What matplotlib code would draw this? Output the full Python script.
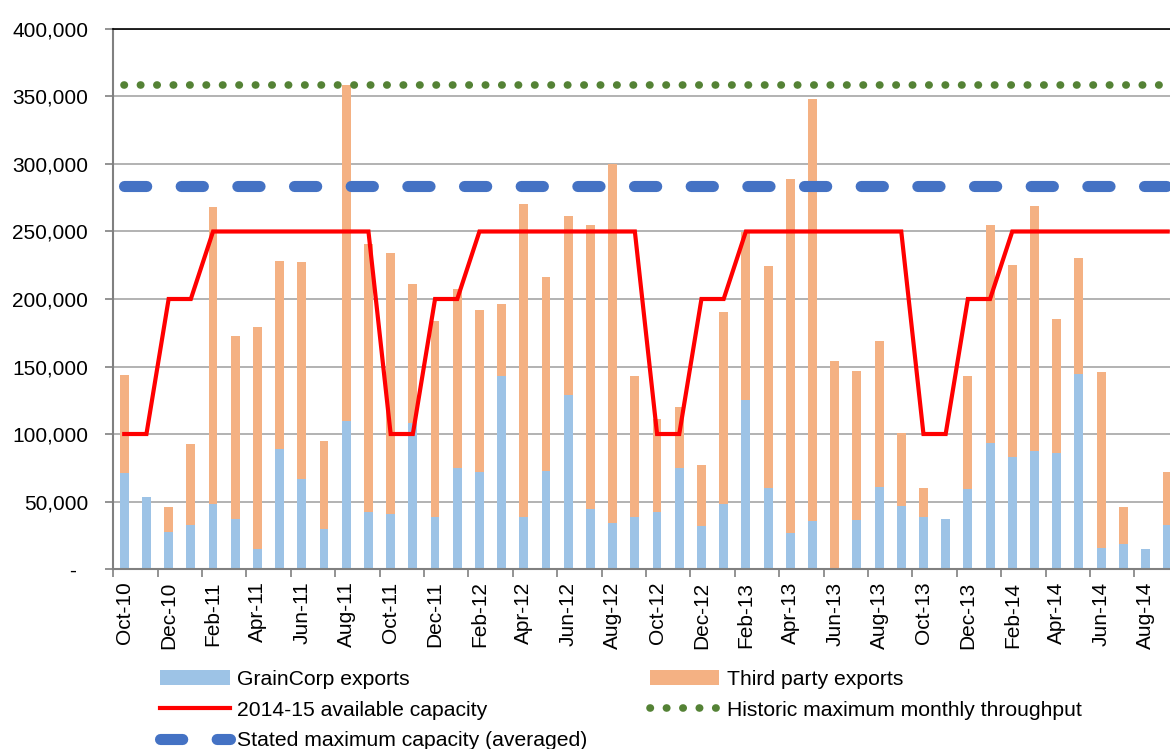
import matplotlib
matplotlib.use("Agg")
import matplotlib.pyplot as plt
from matplotlib.ticker import FuncFormatter, FixedLocator
import numpy as np

plt.rcParams['font.family'] = ['Liberation Sans', 'DejaVu Sans']

months = ['Oct-10', 'Nov-10', 'Dec-10', 'Jan-11', 'Feb-11', 'Mar-11', 'Apr-11', 'May-11',
          'Jun-11', 'Jul-11', 'Aug-11', 'Sep-11', 'Oct-11', 'Nov-11', 'Dec-11', 'Jan-12',
          'Feb-12', 'Mar-12', 'Apr-12', 'May-12', 'Jun-12', 'Jul-12', 'Aug-12', 'Sep-12',
          'Oct-12', 'Nov-12', 'Dec-12', 'Jan-13', 'Feb-13', 'Mar-13', 'Apr-13', 'May-13',
          'Jun-13', 'Jul-13', 'Aug-13', 'Sep-13', 'Oct-13', 'Nov-13', 'Dec-13', 'Jan-14',
          'Feb-14', 'Mar-14', 'Apr-14', 'May-14', 'Jun-14', 'Jul-14', 'Aug-14', 'Sep-14']

graincorp = [71000, 53000, 27700, 32600, 47900, 36800, 14600, 88900, 66400, 29400, 109600, 42000,
             40500, 107900, 38300, 74600, 71600, 143000, 38300, 72600, 128900, 44400, 34300, 38500,
             42000, 74600, 31600, 47900, 125200, 60200, 26900, 35600, 0, 36000, 61000, 46900,
             38800, 36800, 59000, 93100, 82700, 87700, 86200, 144200, 15800, 18800, 15000, 32600]

third_party = [72700, 0, 18000, 59700, 220500, 135800, 164700, 139000, 161000, 65200, 248900, 198700,
               193800, 103200, 145400, 132600, 120000, 53500, 232100, 143900, 132600, 210600, 265700, 104500,
               69100, 45600, 45400, 142700, 124700, 164500, 261700, 312500, 154300, 110700, 108100, 53600,
               21000, 0, 84000, 161700, 142200, 180900, 98700, 86200, 129900, 27400, 0, 39500]

available_capacity = [100000, 100000, 200000, 200000, 250000, 250000, 250000, 250000, 250000, 250000, 250000, 250000,
                      100000, 100000, 200000, 200000, 250000, 250000, 250000, 250000, 250000, 250000, 250000, 250000,
                      100000, 100000, 200000, 200000, 250000, 250000, 250000, 250000, 250000, 250000, 250000, 250000,
                      100000, 100000, 200000, 200000, 250000, 250000, 250000, 250000, 250000, 250000, 250000, 250000]

stated_max = 283500
historic_max = 358500

x = np.arange(len(months))

fig = plt.figure(figsize=(11.7, 7.49), dpi=100)
ax = fig.add_axes([0.0967, 0.2403, 0.9108, 0.721])

ax.bar(x, graincorp, width=0.4, color='#9DC3E6', zorder=2, label='GrainCorp exports')
ax.bar(x, third_party, width=0.4, bottom=graincorp, color='#F4B183', zorder=2, label='Third party exports')

red, = ax.plot(x, available_capacity, color='#FF0000', lw=3, zorder=4,
               solid_joinstyle='miter', label='2014-15 available capacity')
green, = ax.plot(x, [historic_max] * len(x), color='#548235', lw=5.5, zorder=3,
                 linestyle=(0, (0.05, 2.1)), dash_capstyle='round',
                 label='Historic maximum monthly throughput')
blue, = ax.plot(x, [stated_max] * len(x), color='#4472C4', lw=8, zorder=3,
                linestyle=(0, (2.0, 3.1)), dash_capstyle='round',
                label='Stated maximum capacity (averaged)')

ax.set_xlim(-0.5, 47.5)
ax.set_ylim(0, 400000)
ax.set_yticks(np.arange(0, 400001, 50000))
ax.yaxis.set_major_formatter(FuncFormatter(lambda v, p: '-  ' if v == 0 else f'{int(v):,}'))
ax.yaxis.grid(True, color='#A6A6A6', lw=1.2, zorder=0)
ax.set_axisbelow(True)

ax.set_xticks(x[::2])
ax.set_xticklabels(months[::2], rotation=90)
ax.xaxis.set_minor_locator(FixedLocator(np.arange(-0.5, 48, 2)))
ax.tick_params(axis='x', which='major', length=0, pad=9, labelsize=15)
ax.tick_params(axis='x', which='minor', length=6, color='#808080', width=1.2)
ax.tick_params(axis='y', length=6, color='#808080', width=1.2, pad=12, labelsize=15)

ax.spines['top'].set_color('black')
ax.spines['top'].set_linewidth(1.2)
ax.spines['left'].set_color('#808080')
ax.spines['left'].set_linewidth(1.5)
ax.spines['bottom'].set_color('#808080')
ax.spines['bottom'].set_linewidth(1.5)
ax.spines['right'].set_visible(False)

handles, labels = ax.get_legend_handles_labels()
order = ['GrainCorp exports', '2014-15 available capacity', 'Stated maximum capacity (averaged)',
         'Third party exports', 'Historic maximum monthly throughput']
hl = dict(zip(labels, handles))
fig.legend([hl[k] for k in order], order, loc='upper left', bbox_to_anchor=(160 / 1170, 1 - 670 / 749),
           ncol=2, frameon=False, fontsize=15.2, handlelength=3.3, handletextpad=0.35,
           columnspacing=2.95, labelspacing=0.55, borderpad=0, borderaxespad=0)

fig.savefig('out.png', dpi=100)
